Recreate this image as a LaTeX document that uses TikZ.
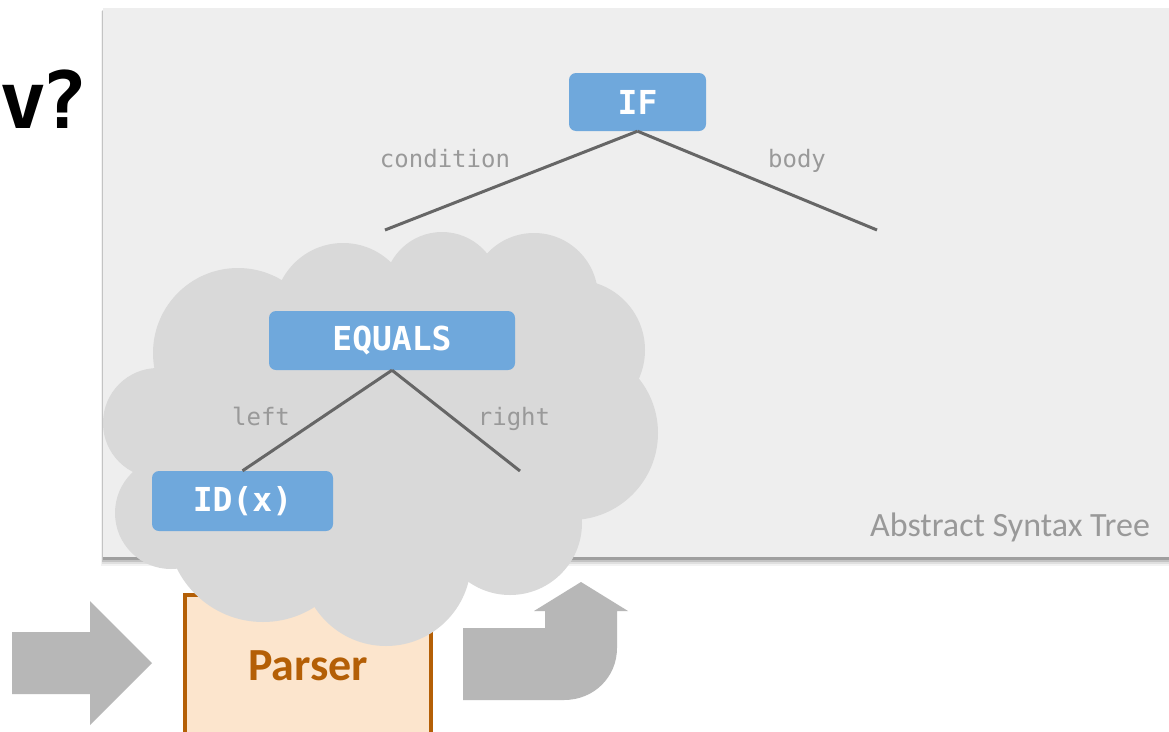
\documentclass[tikz,border=0pt]{standalone}
\usepackage{fontspec}
\setmainfont{Carlito}
\newfontfamily\codefont{DejaVu Sans Mono}
\definecolor{nodeblue}{HTML}{6FA8DC}
\definecolor{edgegray}{HTML}{666666}
\definecolor{labelgray}{HTML}{999999}
\definecolor{panelgray}{HTML}{EEEEEE}
\definecolor{cloudgray}{HTML}{D9D9D9}
\definecolor{arrowgray}{HTML}{B7B7B7}
\definecolor{parserbrown}{HTML}{B45F06}
\definecolor{parserfill}{HTML}{FCE5CD}
\begin{document}
\begin{tikzpicture}[x=1pt,y=-1pt,
  astnode/.style={fill=nodeblue, rounded corners=7pt, text=white,
    font=\codefont\bfseries\fontsize{33}{36}\selectfont, inner sep=0pt},
  treeedge/.style={draw=edgegray, line width=3pt},
  elabel/.style={text=labelgray, font=\codefont\fontsize{24}{28}\selectfont, inner sep=0pt, anchor=base},
  blockarrow/.style={fill=arrowgray},
  bubble/.style={fill=cloudgray}]
\useasboundingbox (0,0) rectangle (1169,731);
\fill[white] (0,0) rectangle (1169,731);

% title fragment
\node[anchor=base west, inner sep=0pt, font=\codefont\bfseries\fontsize{79}{80}\selectfont] (title) at (-1,128) {v\kern-6pt?};

% panel with its soft shadow
\fill[black, opacity=0.05] (101,11) rectangle (1180,566);
\fill[black, opacity=0.08] (101.5,11) rectangle (1180,564);
\fill[black, opacity=0.12] (102,10) rectangle (1180,562);
\fill[black, opacity=0.18] (102.5,9) rectangle (1180,560);
\fill[panelgray] (103,8) rectangle (1180,557);
\node[font=\fontsize{34}{38}\selectfont, text=labelgray, inner sep=0pt, anchor=base] (asttitle) at (1010,536) {Abstract Syntax Tree};

% upper part of the tree
\node[astnode, minimum width=137pt, minimum height=58pt] (if) at (637.5,102) {IF};
\coordinate (condend) at (385,230);
\coordinate (bodyend) at (877,230);
\draw[treeedge] (if.south) -- (condend);
\draw[treeedge] (if.south) -- (bodyend);
\node[elabel] (condlabel) at (445,167) {condition};
\node[elabel] (bodylabel) at (797,167) {body};

% parser box and arrows
\fill[parserfill, draw=parserbrown, line width=4.5pt] (185,595) rectangle (431,745);
\node[font=\bfseries\fontsize{46}{50}\selectfont, text=parserbrown, inner sep=0pt, anchor=base] (parser) at (308,680) {Parser};
\fill[blockarrow] (12,632) -- (90,632) -- (90,601) -- (152,663) -- (90,725) -- (90,694) -- (12,694) -- cycle;
\fill[blockarrow] (463,628) -- (545,628) -- (545,611) -- (534,611) -- (581,582) -- (628,611) -- (617,611)
  -- (617,648) .. controls (617,677) and (594,700) .. (564,700) -- (463,700) -- cycle;

% cloud of pending work
\fill[bubble] (238,353) -- (343,312) -- (442,290) -- (534,297) -- (575,350) -- (571,433)
  -- (510,523) -- (386,561) -- (263,526) -- (171,513) -- (158,423) -- cycle;
\foreach \cx/\cy/\r in {238/353/85, 343/312/69, 442/290/58, 534/297/64, 575/350/70,
    571/433/87, 510/523/72, 386/561/85, 263/526/96, 171/513/56, 158/423/55}
  \fill[bubble] (\cx,\cy) circle[radius=\r pt];

% subtree inside the cloud
\node[astnode, minimum width=246pt, minimum height=59pt] (equals) at (392,340.5) {EQUALS};
\node[astnode, minimum width=181pt, minimum height=60pt] (idx) at (242.5,501) {ID(x)};
\coordinate (rightend) at (520,471);
\draw[treeedge] (equals.south) -- (idx.north);
\draw[treeedge] (equals.south) -- (rightend);
\node[elabel] (leftlabel) at (261,425) {left};
\node[elabel] (rightlabel) at (514,425) {right};
\end{tikzpicture}
\end{document}
